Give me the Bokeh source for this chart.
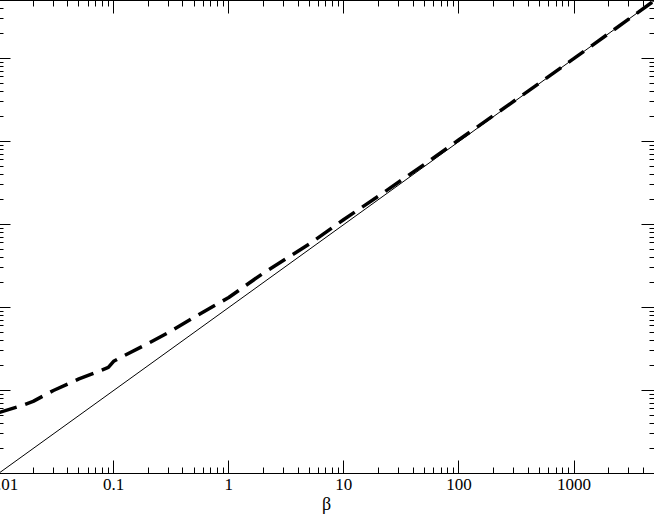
from bokeh.plotting import figure
from bokeh.models import LogAxis, LogTicker, PrintfTickFormatter, CustomJSTickFormatter
from bokeh.embed import file_html
from bokeh.resources import INLINE

# data
beta_ref = [0.01, 5000]
y_ref = [0.01, 5000]

beta = [0.01, 0.016, 0.02, 0.03, 0.05, 0.07, 0.09, 0.1, 0.12, 0.2, 0.3, 0.5,
        1, 2, 5, 10, 20, 50, 100, 200, 500, 1000, 2000, 5000]
y_dash = [0.054, 0.066, 0.074, 0.10, 0.138, 0.165, 0.19, 0.225, 0.258, 0.37, 0.50, 0.76,
          1.32, 2.6, 5.8, 11.5, 22.0, 53.0, 105, 206, 505, 1002, 2001, 5000]
x_title = "β"

FONT = "Liberation Serif"

p = figure(width=666, height=529, x_axis_type="log", y_axis_type="log",
           x_range=(0.01, 5000), y_range=(0.01, 5000),
           output_backend="svg", toolbar_location=None,
           min_border_left=10, min_border_top=10, min_border_right=0, min_border_bottom=46,
           margin=(-10, 0, 0, -12))
p.outline_line_color = None
p.xgrid.visible = False
p.ygrid.visible = False
p.background_fill_color = "white"
p.border_fill_color = "white"

p.line(beta_ref, y_ref, line_color="black", line_width=1)
p.line(beta, y_dash, line_color="black", line_width=3.5, line_dash="19 9")

blank = CustomJSTickFormatter(code="return ''")

def style_axis(ax, major, minor, labels=True):
    ax.ticker = LogTicker(num_minor_ticks=10)
    ax.major_tick_in = major
    ax.major_tick_out = 0
    ax.minor_tick_in = minor
    ax.minor_tick_out = 0
    ax.axis_line_color = "black"
    ax.major_tick_line_color = "black"
    ax.minor_tick_line_color = "black"
    if labels:
        ax.formatter = PrintfTickFormatter(format="%g")
        ax.major_label_text_font = FONT
        ax.major_label_text_font_size = "17px"
        ax.major_label_text_color = "black"
        ax.major_label_standoff = 5
    else:
        ax.formatter = blank
        ax.major_label_standoff = 0
        ax.major_label_text_font_size = "0px"

xa = p.xaxis[0]
style_axis(xa, 13, 6)
xa.axis_label = x_title
xa.axis_label_text_font = FONT
xa.axis_label_text_font_size = "18px"
xa.axis_label_text_font_style = "normal"
xa.axis_label_text_color = "black"
xa.axis_label_standoff = 1

ya = p.yaxis[0]
style_axis(ya, 12, 5, labels=False)

top = LogAxis()
style_axis(top, 13, 6, labels=False)
p.add_layout(top, "above")

right = LogAxis()
style_axis(right, 13, 5, labels=False)
p.add_layout(right, "right")

open("out.html", "w").write(file_html(p, INLINE))
